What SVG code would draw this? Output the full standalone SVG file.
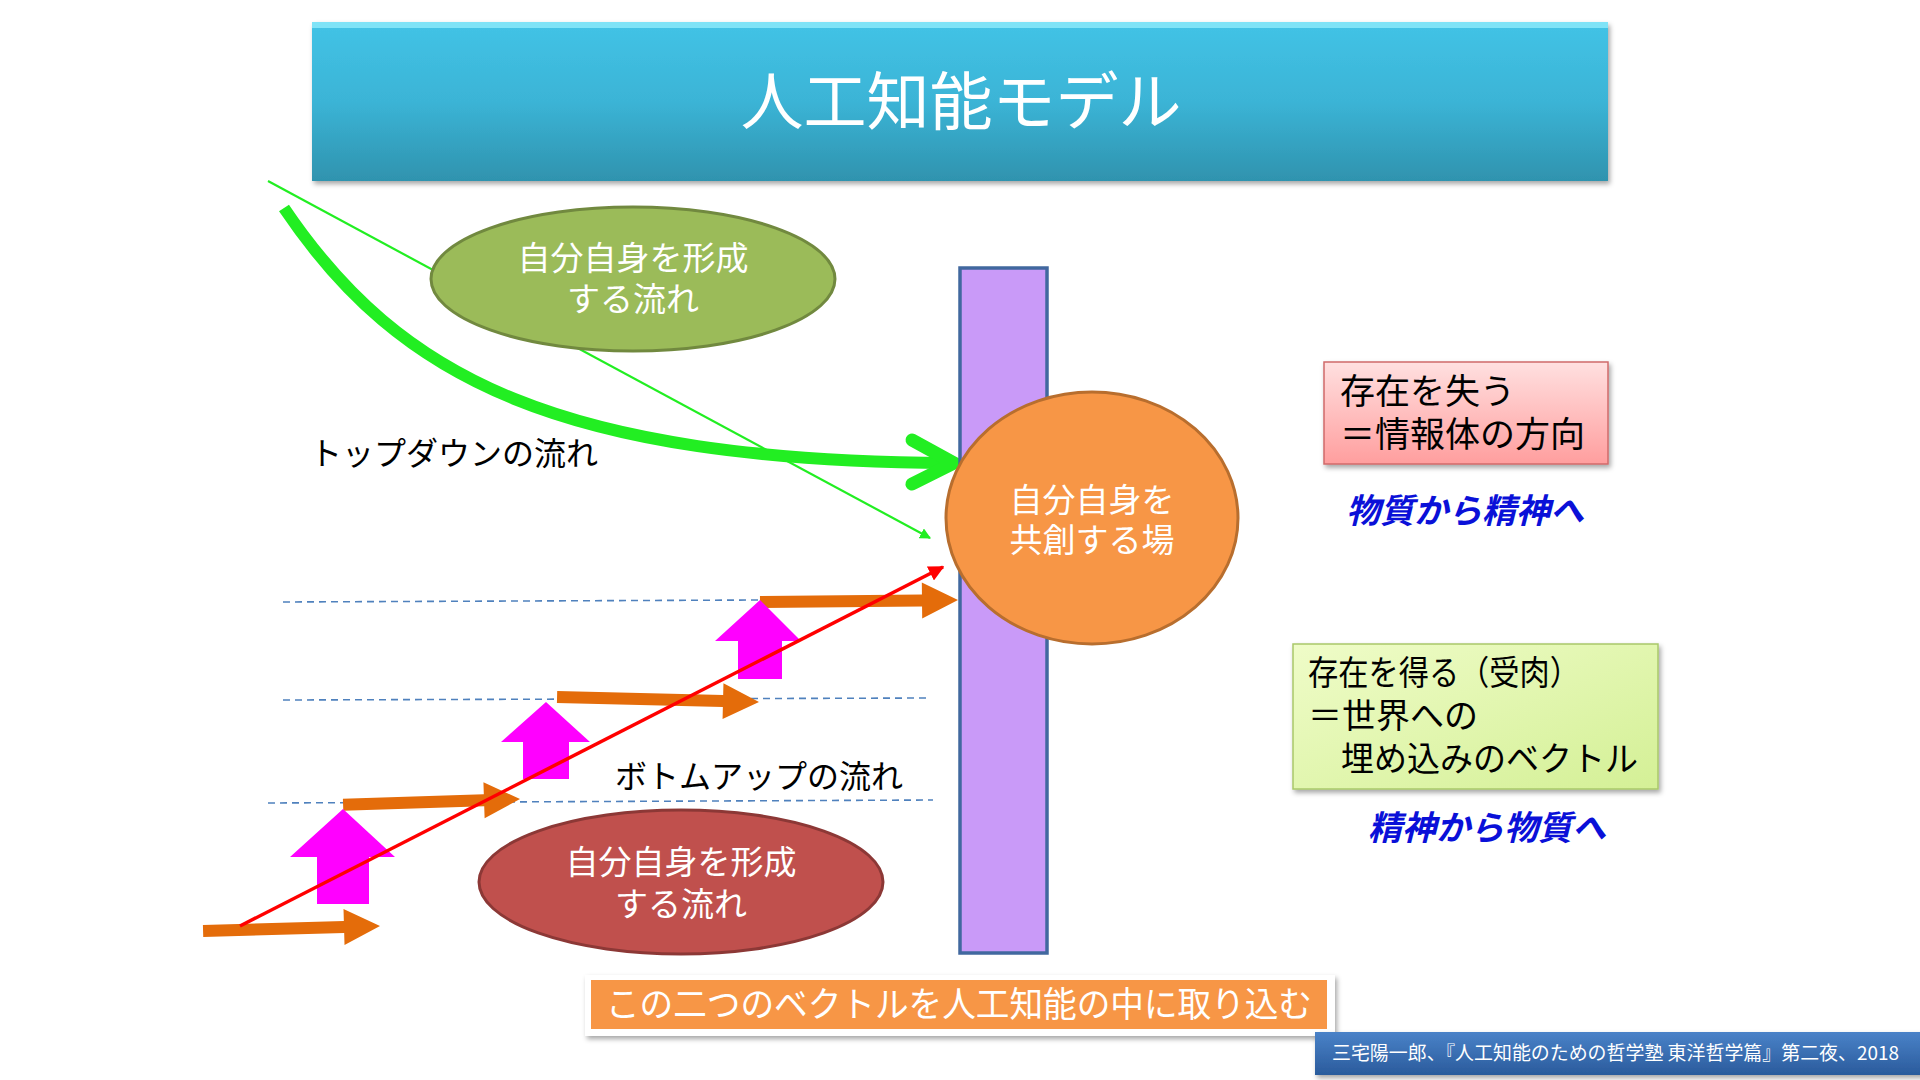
<svg xmlns="http://www.w3.org/2000/svg" width="1920" height="1080" viewBox="0 0 1920 1080">
<defs>
<style>
.jp{font-family:"Noto Sans CJK JP","Noto Sans",sans-serif;}
.wt{fill:#ffffff;}
.bk{fill:#000000;}
.blu{fill:#0a10d8;font-weight:bold;font-style:italic;}
.dash{stroke:#4f81bd;stroke-width:1.6;stroke-dasharray:7 5;fill:none;}
.oarr{fill:#e46c0a;}
.marr{fill:#ff00ff;}
</style>
<linearGradient id="gTitle" x1="0" y1="0" x2="0" y2="1">
<stop offset="0" stop-color="#42c3e6"/>
<stop offset="0.5" stop-color="#3bb4d6"/>
<stop offset="1" stop-color="#2f93ae"/>
</linearGradient>
<linearGradient id="gPink" x1="0" y1="0" x2="0" y2="1">
<stop offset="0" stop-color="#ffe0e0"/>
<stop offset="1" stop-color="#ff9e9e"/>
</linearGradient>
<linearGradient id="gGreen" x1="0" y1="0" x2="1" y2="1">
<stop offset="0" stop-color="#effcc8"/>
<stop offset="1" stop-color="#d4f096"/>
</linearGradient>
<linearGradient id="gCite" x1="0" y1="0" x2="0" y2="1">
<stop offset="0" stop-color="#4a82c8"/>
<stop offset="1" stop-color="#2a5b9c"/>
</linearGradient>
<filter id="sh" x="-5%" y="-10%" width="110%" height="130%">
<feDropShadow dx="2" dy="3" stdDeviation="2.5" flood-color="#000" flood-opacity="0.35"/>
</filter>
<marker id="mGreen" viewBox="0 0 10 10" refX="9" refY="5" markerWidth="5" markerHeight="5" orient="auto" markerUnits="strokeWidth">
<path d="M0,0 L10,5 L0,10 z" fill="#22ee22"/>
</marker>
<marker id="mRed" viewBox="0 0 10 10" refX="9" refY="5" markerWidth="4.5" markerHeight="4.5" orient="auto" markerUnits="strokeWidth">
<path d="M0,0 L10,5 L0,10 z" fill="#ff0000"/>
</marker>
</defs>
<rect width="1920" height="1080" fill="#ffffff"/>

<g id="title">
<rect x="312" y="22" width="1296" height="159" fill="url(#gTitle)" filter="url(#sh)"/>
<rect x="312" y="22" width="1296" height="6" fill="#7fe3f7"/>
<text class="jp wt" x="961" y="124" font-size="63" text-anchor="middle">人工知能モデル</text>
</g>

<g id="connectors">
<line x1="268" y1="181" x2="930" y2="538" stroke="#22ee22" stroke-width="2.2" marker-end="url(#mGreen)"/>
<path d="M284,208 C400,380 560,460 950,463" fill="none" stroke="#22ee22" stroke-width="12" stroke-linecap="butt"/>
<polyline points="912,440 954,463 912,484" fill="none" stroke="#22ee22" stroke-width="13" stroke-linecap="round" stroke-linejoin="miter"/>
<line x1="283" y1="602" x2="759" y2="600" class="dash"/>
<line x1="283" y1="700" x2="931" y2="698" class="dash"/>
<line x1="268" y1="803" x2="933" y2="800" class="dash"/>
<polygon class="oarr" points="-177,-6 -36,-6 -36,-18 0,0 -36,18 -36,6 -177,6" transform="translate(380,926) rotate(-1.6)"/>
<polygon class="oarr" points="-177,-6 -36,-6 -36,-18 0,0 -36,18 -36,6 -177,6" transform="translate(520,799) rotate(-1.9)"/>
<polygon class="oarr" points="-202,-6 -36,-6 -36,-18 0,0 -36,18 -36,6 -202,6" transform="translate(759,702) rotate(1.4)"/>
<polygon class="oarr" points="-198,-6 -36,-6 -36,-18 0,0 -36,18 -36,6 -198,6" transform="translate(958,600) rotate(-0.6)"/>
<polygon class="marr" points="343,809 395,857 369,857 369,904 317,904 317,857 290,857"/>
<polygon class="marr" points="546,702 590,742 569,742 569,779 523,779 523,742 501,742"/>
<polygon class="marr" points="760,600 801,641 782,641 782,679 738,679 738,641 715,641"/>
<line x1="240" y1="926" x2="943" y2="567" stroke="#ff0000" stroke-width="3.5" marker-end="url(#mRed)"/>
</g>

<g id="topdown-label">
<text class="jp bk" x="310" y="465" font-size="32">トップダウンの流れ</text>
</g>
<g id="bottomup-label">
<text class="jp bk" x="615" y="788" font-size="32">ボトムアップの流れ</text>
</g>

<g id="green-ellipse">
<ellipse cx="633" cy="279" rx="202" ry="72" fill="#9bbb59" stroke="#71893f" stroke-width="3"/>
<text class="jp wt" x="633" y="270" font-size="33" text-anchor="middle">自分自身を形成</text>
<text class="jp wt" x="633" y="311" font-size="33" text-anchor="middle">する流れ</text>
</g>

<g id="red-ellipse">
<ellipse cx="681" cy="882" rx="202" ry="72" fill="#c0504d" stroke="#8c3836" stroke-width="3"/>
<text class="jp wt" x="681" y="874" font-size="33" text-anchor="middle">自分自身を形成</text>
<text class="jp wt" x="681" y="916" font-size="33" text-anchor="middle">する流れ</text>
</g>

<g id="field-bar">
<rect x="960" y="268" width="87" height="685" fill="#c99af8" stroke="#41689f" stroke-width="3.5"/>
</g>

<g id="cocreation">
<ellipse cx="1092" cy="518" rx="146" ry="126" fill="#f79646" stroke="#b86e2e" stroke-width="3"/>
<text class="jp wt" x="1092" y="512" font-size="33" text-anchor="middle">自分自身を</text>
<text class="jp wt" x="1092" y="552" font-size="33" text-anchor="middle">共創する場</text>
</g>

<g id="lose-box">
<rect x="1324" y="362" width="284" height="102" fill="url(#gPink)" stroke="#d06a6a" stroke-width="1.5" filter="url(#sh)"/>
<text class="jp bk" x="1340" y="404" font-size="35">存在を失う</text>
<text class="jp bk" x="1340" y="447" font-size="35">＝情報体の方向</text>
</g>
<g id="lose-caption">
<text class="jp blu" x="1465" y="523" font-size="34" text-anchor="middle">物質から精神へ</text>
</g>

<g id="gain-box">
<rect x="1293" y="644" width="365" height="145" fill="url(#gGreen)" stroke="#a9c86a" stroke-width="1.5" filter="url(#sh)"/>
<text class="jp bk" x="1308" y="685" font-size="34" textLength="272" lengthAdjust="spacingAndGlyphs">存在を得る（受肉）</text>
<text class="jp bk" x="1308" y="728" font-size="34">＝世界への</text>
<text class="jp bk" x="1341" y="771" font-size="34" textLength="297" lengthAdjust="spacingAndGlyphs">埋め込みのベクトル</text>
</g>
<g id="gain-caption">
<text class="jp blu" x="1487" y="840" font-size="34" text-anchor="middle">精神から物質へ</text>
</g>

<g id="summary">
<rect x="585" y="975" width="750" height="61" fill="#ffffff" filter="url(#sh)"/>
<rect x="591" y="980" width="736" height="49" fill="#f79646"/>
<text class="jp wt" x="959" y="1017" font-size="35" text-anchor="middle" textLength="706" lengthAdjust="spacingAndGlyphs">この二つのベクトルを人工知能の中に取り込む</text>
</g>

<g id="citation">
<rect x="1315" y="1032" width="610" height="43" fill="url(#gCite)" filter="url(#sh)"/>
<text class="jp wt" x="1332" y="1060" font-size="19" textLength="567" lengthAdjust="spacingAndGlyphs">三宅陽一郎、『人工知能のための哲学塾 東洋哲学篇』第二夜、2018</text>
</g>
</svg>
